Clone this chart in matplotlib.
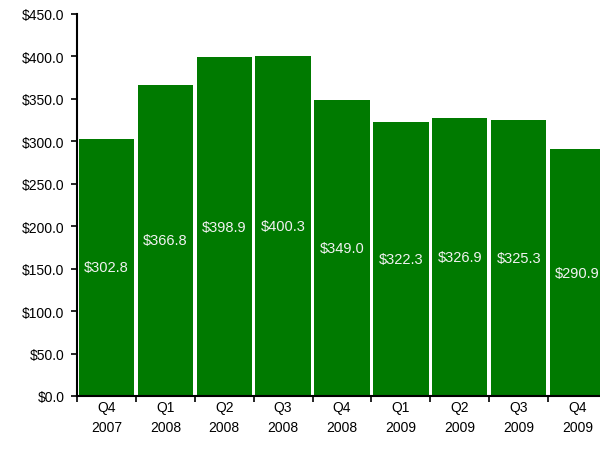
import matplotlib.pyplot as plt
import numpy as np

quarters = ['Q4\n2007', 'Q1\n2008', 'Q2\n2008', 'Q3\n2008', 'Q4\n2008',
            'Q1\n2009', 'Q2\n2009', 'Q3\n2009', 'Q4\n2009']
values = [302.8, 366.8, 398.9, 400.3, 349.0, 322.3, 326.9, 325.3, 290.9]

plt.rcParams['font.family'] = ['Liberation Sans', 'DejaVu Sans']

fig = plt.figure(figsize=(6, 4.56), dpi=100)
ax = fig.add_axes([77 / 600, 59 / 456, 530 / 600, 382 / 456])

x = np.arange(len(values))
bars = ax.bar(x, values, width=0.94, color='#007a00', zorder=2)

# value labels in the middle of each bar
for xi, v in zip(x, values):
    ax.text(xi, v / 2, f'${v:.1f}', color='#f2f2f2', ha='center', va='center',
            fontsize=10.5)

ax.set_xlim(-0.5, len(values) - 0.5)
ax.set_ylim(0, 450)
ax.set_yticks(np.arange(0, 451, 50))
ax.set_yticklabels([f'${t:.1f}' for t in np.arange(0, 451, 50)], fontsize=10)

# ticks at category boundaries, labels at centres
ax.set_xticks(np.arange(0, len(values)) - 0.5)
ax.set_xticklabels([])
ax.set_xticks(x, minor=True)
ax.set_xticklabels(quarters, minor=True, fontsize=10, linespacing=1.5)
ax.tick_params(axis='x', which='minor', length=0, pad=3)
ax.tick_params(axis='x', which='major', length=4, width=1.2)
ax.tick_params(axis='y', length=4, width=1.2, pad=5)

ax.spines['top'].set_visible(False)
ax.spines['right'].set_visible(False)
ax.spines['left'].set_linewidth(1.5)
ax.spines['bottom'].set_linewidth(1.5)

fig.savefig('out.png', dpi=100)
